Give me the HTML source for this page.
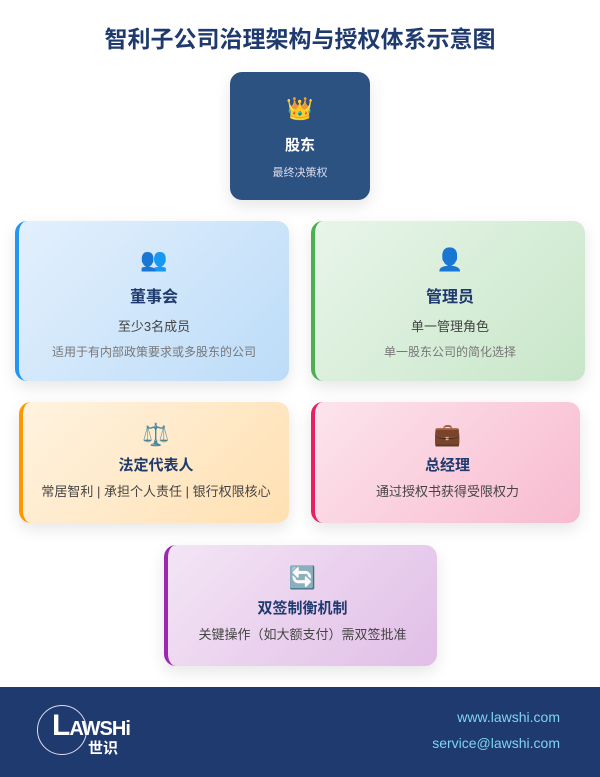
<!DOCTYPE html>
<html><head><meta charset="utf-8"><style>
*{margin:0;padding:0;box-sizing:border-box}
body{width:600px;height:777px;background:#fff;font-family:"Liberation Sans","Noto Sans CJK SC",sans-serif;position:relative;overflow:hidden}
h1{position:absolute;top:20px;left:0;width:600px;text-align:center;font-size:23px;font-weight:bold;color:#1f3a6e}
.c{position:absolute;border-radius:12px;text-align:center;box-shadow:0 6px 16px rgba(0,0,0,0.1)}
.ic{font-size:22px;line-height:26px}
.t{font-weight:bold;color:#1f3a6e;font-size:16px}
.s{color:#444;font-size:13px}
.d{color:#777;font-size:12px}
</style></head><body>
<h1>智利子公司治理架构与授权体系示意图</h1>
<div class="c" style="left:230px;top:72px;width:140px;height:128px;background:#2c5282;">
 <div class="ic" style="margin-top:24px">👑</div>
 <div class="t" style="color:#fff;margin-top:12px;font-size:15px">股东</div>
 <div class="s" style="color:#dde;margin-top:9px;font-size:11px">最终决策权</div>
</div>
<div class="c" style="left:15px;top:221px;width:274px;height:160px;background:linear-gradient(135deg,#e3f0fd,#bcdcf8);border-left:4px solid #2196f3">
 <div class="ic" style="margin-top:26px">👥</div>
 <div class="t" style="margin-top:10px">董事会</div>
 <div class="s" style="margin-top:9px">至少3名成员</div>
 <div class="d" style="margin-top:8px">适用于有内部政策要求或多股东的公司</div>
</div>
<div class="c" style="left:311px;top:221px;width:274px;height:160px;background:linear-gradient(135deg,#e8f5e9,#c8e6c9);border-left:4px solid #4caf50">
 <div class="ic" style="margin-top:26px">👤</div>
 <div class="t" style="margin-top:10px">管理员</div>
 <div class="s" style="margin-top:9px">单一管理角色</div>
 <div class="d" style="margin-top:8px">单一股东公司的简化选择</div>
</div>
<div class="c" style="left:19px;top:402px;width:270px;height:121px;background:linear-gradient(135deg,#fff3e0,#ffe0b2);border-left:4px solid #ff9800">
 <div class="ic" style="margin-top:20px">⚖️</div>
 <div class="t" style="margin-top:6px;font-size:15px">法定代表人</div>
 <div class="s" style="margin-top:6px">常居智利 | 承担个人责任 | 银行权限核心</div>
</div>
<div class="c" style="left:311px;top:402px;width:269px;height:121px;background:linear-gradient(135deg,#fce4ec,#f8bbd0);border-left:4px solid #e91e63">
 <div class="ic" style="margin-top:20px">💼</div>
 <div class="t" style="margin-top:6px;font-size:15px">总经理</div>
 <div class="s" style="margin-top:6px">通过授权书获得受限权力</div>
</div>
<div class="c" style="left:164px;top:545px;width:273px;height:121px;background:linear-gradient(135deg,#f3e5f5,#e1bee7);border-left:4px solid #9c27b0">
 <div class="ic" style="margin-top:20px">🔄</div>
 <div class="t" style="margin-top:6px;font-size:15px">双签制衡机制</div>
 <div class="s" style="margin-top:6px">关键操作（如大额支付）需双签批准</div>
</div>
<div style="position:absolute;left:0;top:687px;width:600px;height:90px;background:#1f3a6e">
 <div style="position:absolute;left:37px;top:18px;width:50px;height:50px;border:1.5px solid #dde;border-radius:50%"></div>
 <div style="position:absolute;left:52px;top:22px;color:#fff;font-weight:bold;font-size:30px;letter-spacing:-1px">L<span style="font-size:20px">AWSHi</span></div>
 <div style="position:absolute;left:88px;top:50px;color:#fff;font-weight:bold;font-size:15px">世识</div>
 <div style="position:absolute;right:40px;top:17px;color:#7fd4f0;font-size:14px;text-align:right;line-height:26px">www.lawshi.com<br>service@lawshi.com</div>
</div>
</body></html>
